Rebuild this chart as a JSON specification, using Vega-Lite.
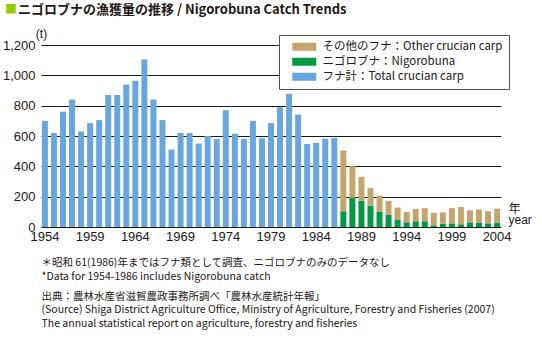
{
  "$schema": "https://vega.github.io/schema/vega-lite/v6.json",
  "width": 460,
  "height": 182,
  "autosize": {"type": "none"},
  "padding": {"left": 41, "top": 45, "right": 41, "bottom": 123},
  "background": "white",
  "title": {
    "text": "■",
    "subtitle": "\u200b\u3000ニゴロブナの漁獲量の推移 / Nigorobuna Catch Trends",
    "anchor": "start",
    "frame": "group",
    "orient": "top",
    "dx": -36,
    "offset": 9,
    "font": "Noto Sans CJK JP",
    "fontSize": 12,
    "fontWeight": "normal",
    "color": "#99cc00",
    "subtitleFont": "Noto Sans CJK JP",
    "subtitleFontSize": 13,
    "subtitleFontWeight": "bold",
    "subtitleColor": "#231815",
    "subtitlePadding": -13
  },
  "data": {
    "values": [
      {"year": 1954, "type": "フナ計：Total crucian carp", "catch": 700},
      {"year": 1955, "type": "フナ計：Total crucian carp", "catch": 620},
      {"year": 1956, "type": "フナ計：Total crucian carp", "catch": 760},
      {"year": 1957, "type": "フナ計：Total crucian carp", "catch": 840},
      {"year": 1958, "type": "フナ計：Total crucian carp", "catch": 630},
      {"year": 1959, "type": "フナ計：Total crucian carp", "catch": 685},
      {"year": 1960, "type": "フナ計：Total crucian carp", "catch": 705},
      {"year": 1961, "type": "フナ計：Total crucian carp", "catch": 870},
      {"year": 1962, "type": "フナ計：Total crucian carp", "catch": 870},
      {"year": 1963, "type": "フナ計：Total crucian carp", "catch": 940},
      {"year": 1964, "type": "フナ計：Total crucian carp", "catch": 965},
      {"year": 1965, "type": "フナ計：Total crucian carp", "catch": 1105},
      {"year": 1966, "type": "フナ計：Total crucian carp", "catch": 840},
      {"year": 1967, "type": "フナ計：Total crucian carp", "catch": 705},
      {"year": 1968, "type": "フナ計：Total crucian carp", "catch": 510},
      {"year": 1969, "type": "フナ計：Total crucian carp", "catch": 620},
      {"year": 1970, "type": "フナ計：Total crucian carp", "catch": 620},
      {"year": 1971, "type": "フナ計：Total crucian carp", "catch": 550},
      {"year": 1972, "type": "フナ計：Total crucian carp", "catch": 600},
      {"year": 1973, "type": "フナ計：Total crucian carp", "catch": 580},
      {"year": 1974, "type": "フナ計：Total crucian carp", "catch": 770},
      {"year": 1975, "type": "フナ計：Total crucian carp", "catch": 615},
      {"year": 1976, "type": "フナ計：Total crucian carp", "catch": 580},
      {"year": 1977, "type": "フナ計：Total crucian carp", "catch": 700},
      {"year": 1978, "type": "フナ計：Total crucian carp", "catch": 585},
      {"year": 1979, "type": "フナ計：Total crucian carp", "catch": 685},
      {"year": 1980, "type": "フナ計：Total crucian carp", "catch": 790},
      {"year": 1981, "type": "フナ計：Total crucian carp", "catch": 878},
      {"year": 1982, "type": "フナ計：Total crucian carp", "catch": 741},
      {"year": 1983, "type": "フナ計：Total crucian carp", "catch": 547},
      {"year": 1984, "type": "フナ計：Total crucian carp", "catch": 554},
      {"year": 1985, "type": "フナ計：Total crucian carp", "catch": 582},
      {"year": 1986, "type": "フナ計：Total crucian carp", "catch": 587},
      {"year": 1987, "type": "ニゴロブナ：Nigorobuna", "catch": 104},
      {"year": 1988, "type": "ニゴロブナ：Nigorobuna", "catch": 192},
      {"year": 1989, "type": "ニゴロブナ：Nigorobuna", "catch": 172},
      {"year": 1990, "type": "ニゴロブナ：Nigorobuna", "catch": 141},
      {"year": 1991, "type": "ニゴロブナ：Nigorobuna", "catch": 99},
      {"year": 1992, "type": "ニゴロブナ：Nigorobuna", "catch": 82},
      {"year": 1993, "type": "ニゴロブナ：Nigorobuna", "catch": 46},
      {"year": 1994, "type": "ニゴロブナ：Nigorobuna", "catch": 31},
      {"year": 1995, "type": "ニゴロブナ：Nigorobuna", "catch": 38},
      {"year": 1996, "type": "ニゴロブナ：Nigorobuna", "catch": 38},
      {"year": 1997, "type": "ニゴロブナ：Nigorobuna", "catch": 11},
      {"year": 1998, "type": "ニゴロブナ：Nigorobuna", "catch": 22},
      {"year": 1999, "type": "ニゴロブナ：Nigorobuna", "catch": 24},
      {"year": 2000, "type": "ニゴロブナ：Nigorobuna", "catch": 18},
      {"year": 2001, "type": "ニゴロブナ：Nigorobuna", "catch": 31},
      {"year": 2002, "type": "ニゴロブナ：Nigorobuna", "catch": 29},
      {"year": 2003, "type": "ニゴロブナ：Nigorobuna", "catch": 24},
      {"year": 2004, "type": "ニゴロブナ：Nigorobuna", "catch": 26},
      {"year": 1987, "type": "その他のフナ：Other crucian carp", "catch": 401},
      {"year": 1988, "type": "その他のフナ：Other crucian carp", "catch": 209},
      {"year": 1989, "type": "その他のフナ：Other crucian carp", "catch": 159},
      {"year": 1990, "type": "その他のフナ：Other crucian carp", "catch": 115},
      {"year": 1991, "type": "その他のフナ：Other crucian carp", "catch": 108},
      {"year": 1992, "type": "その他のフナ：Other crucian carp", "catch": 90},
      {"year": 1993, "type": "その他のフナ：Other crucian carp", "catch": 82},
      {"year": 1994, "type": "その他のフナ：Other crucian carp", "catch": 68},
      {"year": 1995, "type": "その他のフナ：Other crucian carp", "catch": 81},
      {"year": 1996, "type": "その他のフナ：Other crucian carp", "catch": 86},
      {"year": 1997, "type": "その他のフナ：Other crucian carp", "catch": 82},
      {"year": 1998, "type": "その他のフナ：Other crucian carp", "catch": 75},
      {"year": 1999, "type": "その他のフナ：Other crucian carp", "catch": 100},
      {"year": 2000, "type": "その他のフナ：Other crucian carp", "catch": 114},
      {"year": 2001, "type": "その他のフナ：Other crucian carp", "catch": 79},
      {"year": 2002, "type": "その他のフナ：Other crucian carp", "catch": 86},
      {"year": 2003, "type": "その他のフナ：Other crucian carp", "catch": 80},
      {"year": 2004, "type": "その他のフナ：Other crucian carp", "catch": 95}
    ]
  },
  "layer": [
    {
      "transform": [{"filter": "datum.type === 'フナ計：Total crucian carp'"}],
      "mark": {"type": "bar"},
      "encoding": {
        "x": {
          "field": "year",
          "type": "ordinal",
          "scale": {"paddingInner": 0.336, "paddingOuter": 0.1},
          "axis": {
            "orient": "bottom",
            "values": [1954, 1959, 1964, 1969, 1974, 1979, 1984, 1989, 1994, 1999, 2004],
            "labelAngle": 0,
            "labelFontSize": 13,
            "labelFont": "Liberation Sans",
            "labelColor": "#231815",
            "labelPadding": 3,
            "ticks": false,
            "domain": false,
            "grid": false,
            "title": [
              "＊昭和 61(1986)年まではフナ類として調査、ニゴロブナのみのデータなし",
              "*Data for 1954-1986 includes Nigorobuna catch"
            ],
            "titleFont": "Noto Sans CJK JP",
            "titleFontSize": 10.5,
            "titleFontWeight": "normal",
            "titleColor": "#231815",
            "titleAlign": "left",
            "titleBaseline": "top",
            "titleAnchor": "start",
            "titleX": 0,
            "titleY": 30,
            "titleLineHeight": 14
          }
        },
        "y": {
          "field": "catch",
          "type": "quantitative",
          "scale": {"domain": [0, 1200], "nice": false},
          "axis": {
            "values": [0, 200, 400, 600, 800, 1000, 1200],
            "format": ",d",
            "labelFontSize": 13,
            "labelFont": "Liberation Sans",
            "labelColor": "#231815",
            "labelPadding": 6,
            "ticks": false,
            "domain": false,
            "grid": true,
            "gridColor": "#1a1a1a",
            "gridWidth": 1,
            "title": "(t)",
            "titleAngle": 0,
            "titleAlign": "center",
            "titleBaseline": "middle",
            "titleX": 0,
            "titleY": -12,
            "titleFont": "Liberation Sans",
            "titleFontSize": 12,
            "titleFontWeight": "normal",
            "titleColor": "#231815"
          }
        },
        "color": {
          "field": "type",
          "type": "nominal",
          "scale": {
            "domain": ["その他のフナ：Other crucian carp", "ニゴロブナ：Nigorobuna", "フナ計：Total crucian carp"],
            "range": ["#c4a56e", "#009944", "#6aa6de"]
          },
          "legend": {
            "orient": "none",
            "legendX": 238,
            "legendY": -10,
            "title": null,
            "fillColor": "white",
            "strokeColor": "#555555",
            "padding": 6,
            "labelFont": "Noto Sans CJK JP",
            "labelFontSize": 11.5,
            "labelColor": "#231815",
            "labelLimit": 400,
            "symbolType": "M-3,-1H3V1H-3Z",
            "symbolSize": 64,
            "symbolStrokeWidth": 0,
            "symbolOpacity": 1,
            "symbolOffset": 13.5,
            "labelOffset": 12.5,
            "rowPadding": 2
          }
        }
      }
    },
    {
      "transform": [{"filter": "datum.type !== 'フナ計：Total crucian carp'"}],
      "mark": {"type": "bar"},
      "encoding": {
        "x": {
          "field": "year",
          "type": "ordinal",
          "axis": {
            "orient": "bottom",
            "labels": false,
            "ticks": false,
            "domain": false,
            "grid": false,
            "title": [
              "出典：農林水産省滋賀農政事務所調べ「農林水産統計年報」",
              "(Source) Shiga District Agriculture Office, Ministry of Agriculture, Forestry and Fisheries (2007)",
              "The annual statistical report on agriculture, forestry and fisheries"
            ],
            "titleFont": "Noto Sans CJK JP",
            "titleFontSize": 10.5,
            "titleFontWeight": "normal",
            "titleColor": "#231815",
            "titleAlign": "left",
            "titleBaseline": "top",
            "titleAnchor": "start",
            "titleX": 0,
            "titleY": 64,
            "titleLineHeight": 13.5
          }
        },
        "y": {
          "field": "catch",
          "type": "quantitative",
          "stack": "zero",
          "axis": {
            "orient": "right",
            "labels": false,
            "ticks": false,
            "domain": false,
            "grid": false,
            "title": ["年", "year"],
            "titleAngle": 0,
            "titleAlign": "left",
            "titleBaseline": "top",
            "titleX": 7,
            "titleY": 158,
            "titleFont": "Liberation Sans, Noto Sans CJK JP",
            "titleFontSize": 12,
            "titleFontWeight": "normal",
            "titleColor": "#231815",
            "titleLineHeight": 11
          }
        },
        "color": {"field": "type", "type": "nominal"},
        "order": {"field": "type", "sort": "descending"}
      }
    }
  ],
  "resolve": {"axis": {"x": "independent", "y": "independent"}},
  "config": {"view": {"stroke": null}}
}
